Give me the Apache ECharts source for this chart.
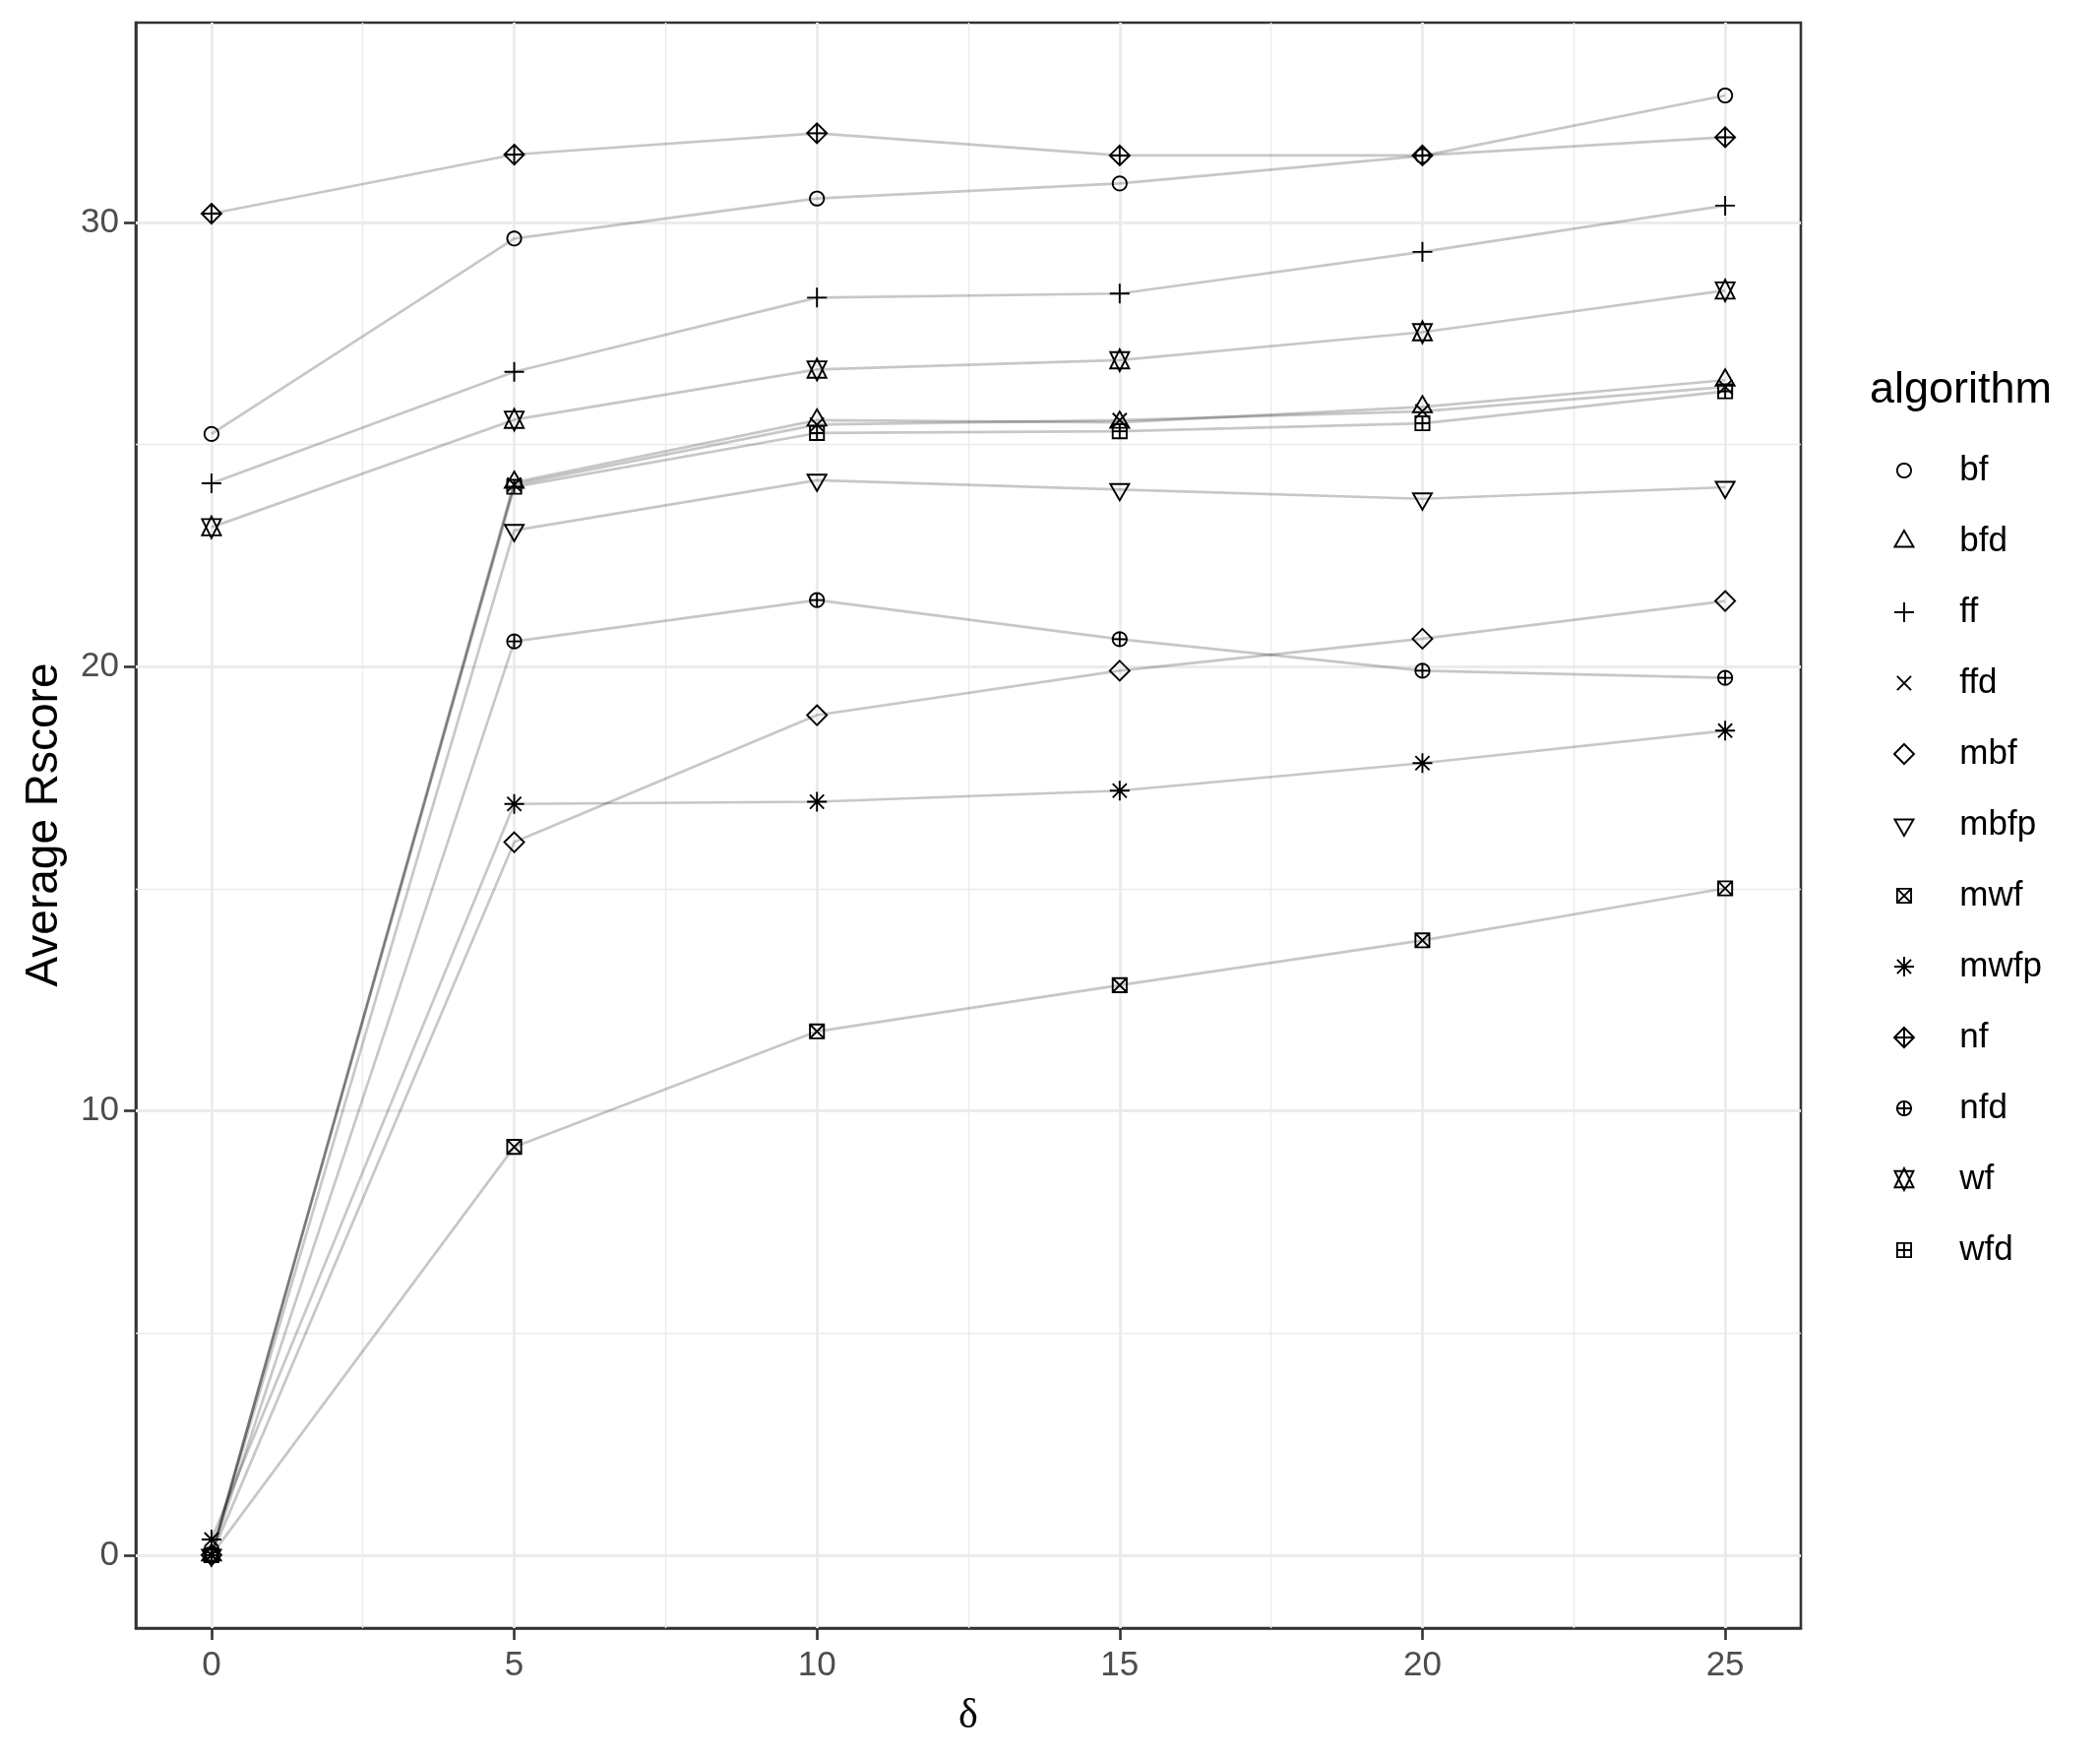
<!DOCTYPE html>
<html>
<head>
<meta charset="utf-8">
<script src="https://cdn.jsdelivr.net/npm/echarts@6/dist/echarts.min.js"></script>
<style>
  html, body { margin: 0; padding: 0; background: #fff; }
  #chart { width: 2134px; height: 1787px; }
</style>
</head>
<body>
<div id="chart"></div>
<script>
// x values (delta) and the algorithms in legend order
var deltas = [0, 5, 10, 15, 20, 25];
var algorithms = ['bf', 'bfd', 'ff', 'ffd', 'mbf', 'mbfp', 'mwf', 'mwfp', 'nf', 'nfd', 'wf', 'wfd'];

// average Rscore per algorithm
var bf   = [25.24, 29.64, 30.54, 30.88, 31.50, 32.86];
var bfd  = [0.00, 24.15, 25.55, 25.50, 25.85, 26.45];
var ff   = [24.13, 26.64, 28.31, 28.40, 29.34, 30.38];
var ffd  = [0.00, 24.10, 25.45, 25.55, 25.75, 26.30];
var mbf  = [0.00, 16.05, 18.91, 19.91, 20.63, 21.48];
var mbfp = [0.00, 23.07, 24.20, 23.99, 23.78, 24.04];
var mwf  = [0.00, 9.19, 11.79, 12.83, 13.84, 15.01];
var mwfp = [0.35, 16.91, 16.96, 17.21, 17.83, 18.56];
var nf   = [30.20, 31.53, 32.01, 31.51, 31.51, 31.92];
var nfd  = [0.00, 20.57, 21.50, 20.62, 19.91, 19.75];
var wf   = [23.14, 25.56, 26.69, 26.90, 27.53, 28.47];
var wfd  = [0.00, 24.05, 25.26, 25.30, 25.48, 26.20];

// axis breaks
var xTicks = [0, 5, 10, 15, 20, 25];
var xMinor = [2.5, 7.5, 12.5, 17.5, 22.5];
var yTicks = [0, 10, 20, 30];
var yMinor = [5, 15, 25];

var scores = {
    bf: bf, bfd: bfd, ff: ff, ffd: ffd, mbf: mbf, mbfp: mbfp,
    mwf: mwf, mwfp: mwfp, nf: nf, nfd: nfd, wf: wf, wfd: wfd
};

var FONT = "'Liberation Sans', Arial, sans-serif";
var SYM = 22.7;   // size of the common symbol frame in px

// R pch shapes 1..12, all drawn in the same -1.6..1.6 frame so sizes stay relative
var FRAME = 'M-1.6,-1.6 M1.6,1.6 ';
function ring(r) {
    var s = '';
    for (var i = 0; i <= 48; i++) {
        var a = i / 48 * Math.PI * 2;
        s += (i ? 'L' : 'M') + (r * Math.cos(a)).toFixed(4) + ',' + (r * Math.sin(a)).toFixed(4) + ' ';
    }
    return s + 'Z ';
}
var DM = 1.4142;
var box = 'M-1,-1 L1,-1 L1,1 L-1,1 Z ';
var diamond = 'M0,-' + DM + ' L' + DM + ',0 L0,' + DM + ' L-' + DM + ',0 Z ';
var shapes = {
    bf: ring(1),
    bfd: 'M0,-1.5551 L1.3468,0.7776 L-1.3468,0.7776 Z',
    ff: 'M-1.4142,0 L1.4142,0 M0,-1.4142 L0,1.4142',
    ffd: 'M-1,-1 L1,1 M-1,1 L1,-1',
    mbf: diamond,
    mbfp: 'M0,1.5551 L1.3468,-0.7776 L-1.3468,-0.7776 Z',
    mwf: box + 'M-1,-1 L1,1 M-1,1 L1,-1',
    mwfp: 'M-1,-1 L1,1 M-1,1 L1,-1 M-1.4142,0 L1.4142,0 M0,-1.4142 L0,1.4142',
    nf: diamond + 'M-' + DM + ',0 L' + DM + ',0 M0,-' + DM + ' L0,' + DM,
    nfd: ring(1) + 'M-1,0 L1,0 M0,-1 L0,1',
    wf: 'M0,-1.5551 L1.3468,1.1663 L-1.3468,1.1663 Z M0,1.5551 L1.3468,-1.1663 L-1.3468,-1.1663 Z',
    wfd: box + 'M-1,0 L1,0 M0,-1 L0,1'
};
function symbolOf(name) {
    return 'path://' + FRAME + shapes[name];
}

var series = [];
algorithms.forEach(function (name) {
    series.push({
        name: name,
        type: 'line',
        z: 2,
        symbol: 'none',
        silent: true,
        lineStyle: { color: 'rgba(0,0,0,0.22)', width: 2.7 },
        data: deltas.map(function (d, i) { return [d, scores[name][i]]; })
    });
});
algorithms.forEach(function (name) {
    series.push({
        name: name,
        type: 'scatter',
        z: 3,
        silent: true,
        symbol: symbolOf(name),
        symbolSize: SYM,
        itemStyle: { color: 'rgba(0,0,0,0)', borderColor: '#000', borderWidth: 1.9, opacity: 1 },
        data: deltas.map(function (d, i) { return [d, scores[name][i]]; })
    });
});

// panel grid lines (major + minor), below the data
var gridLines = [];
xTicks.forEach(function (v) { gridLines.push({ xAxis: v, lineStyle: { width: 2.8 } }); });
xMinor.forEach(function (v) { gridLines.push({ xAxis: v, lineStyle: { width: 1.4 } }); });
yTicks.forEach(function (v) { gridLines.push({ yAxis: v, lineStyle: { width: 2.8 } }); });
yMinor.forEach(function (v) { gridLines.push({ yAxis: v, lineStyle: { width: 1.4 } }); });
series[0].markLine = {
    z: 1,
    silent: true,
    animation: false,
    symbol: ['none', 'none'],
    label: { show: false },
    lineStyle: { color: '#ebebeb', type: 'solid' },
    data: gridLines
};

var option = {
    animation: false,
    backgroundColor: '#fff',
    grid: {
        left: 138, right: 304, top: 23, bottom: 133,
        show: true, borderColor: '#333', borderWidth: 2.6, backgroundColor: '#fff'
    },
    xAxis: {
        type: 'value',
        min: -1.25,
        max: 26.25,
        splitLine: { show: false },
        axisLine: { show: true, onZero: false, lineStyle: { color: '#333', width: 2.6 } },
        axisTick: { show: true, customValues: xTicks, length: 12, lineStyle: { color: '#333', width: 2.6 } },
        axisLabel: { customValues: xTicks, fontSize: 35, color: '#4d4d4d', fontFamily: FONT, margin: 21 }
    },
    yAxis: {
        type: 'value',
        min: -1.643,
        max: 34.5,
        splitLine: { show: false },
        axisLine: { show: true, onZero: false, lineStyle: { color: '#333', width: 2.6 } },
        axisTick: { show: true, customValues: yTicks, length: 12, lineStyle: { color: '#333', width: 2.6 } },
        axisLabel: { customValues: yTicks, fontSize: 35, color: '#4d4d4d', fontFamily: FONT, margin: 17 }
    },
    legend: {
        orient: 'vertical',
        left: 1934 - SYM / 2,
        top: 460.5,
        padding: 0,
        itemWidth: SYM,
        itemHeight: SYM,
        itemGap: 37,
        selectedMode: false,
        itemStyle: { color: 'rgba(0,0,0,0)', borderColor: '#000', borderWidth: 1.9 },
        textStyle: { fontSize: 35, color: '#000', fontFamily: FONT, padding: [0, 0, 0, 40] },
        data: algorithms.map(function (name) { return { name: name, icon: symbolOf(name) }; })
    },
    graphic: [
        {
            type: 'text', x: 45, y: 838, rotation: Math.PI / 2,
            style: { text: 'Average Rscore', fontSize: 46, fontFamily: FONT, fill: '#000',
                     align: 'center', verticalAlign: 'middle', textAlign: 'center', textVerticalAlign: 'middle' }
        },
        {
            type: 'text', x: 984, y: 1744,
            style: { text: 'δ', fontSize: 42, fontFamily: "'Liberation Serif', 'DejaVu Serif', serif", fill: '#000',
                     align: 'center', verticalAlign: 'middle', textAlign: 'center', textVerticalAlign: 'middle' }
        },
        {
            type: 'text', x: 1900, y: 397,
            style: { text: 'algorithm', fontSize: 45, fontFamily: FONT, fill: '#000',
                     align: 'left', verticalAlign: 'middle', textAlign: 'left', textVerticalAlign: 'middle' }
        }
    ],
    series: series
};

var chart = echarts.init(document.getElementById('chart'));
chart.setOption(option);
</script>
</body>
</html>
